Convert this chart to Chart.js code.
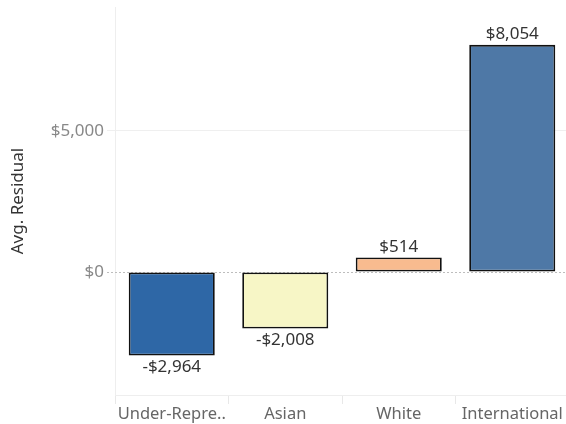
<!DOCTYPE html>
<html>
<head>
<meta charset="utf-8">
<script src="https://cdn.jsdelivr.net/npm/chart.js@4"></script>
<style>
html,body{margin:0;padding:0;background:#fff;overflow:hidden;}
#wrap{width:566px;height:424px;overflow:hidden;}
</style>
</head>
<body>
<div id="wrap"><canvas id="c" width="569" height="424"></canvas></div>
<script>
const categories = ["Under-Repre..", "Asian", "White", "International"];
const avgResidual = [-2964, -2008, 514, 8054];
const valueLabels = ["-$2,964", "-$2,008", "$514", "$8,054"];
const yTickValues = [0, 5000];
const yTickLabels = ["$0", "$5,000"];
const barColors = ["#2e67a6", "#f7f6c6", "#f8bb8f", "#4e78a6"];
const yMin = -4362, yMax = 9397;

const FONT = "'Noto Sans', sans-serif";

const zeroLine = {
  id: 'zeroLine',
  beforeDatasetsDraw(chart) {
    const y = chart.scales.y.getPixelForValue(0);
    const ctx = chart.ctx;
    ctx.save();
    ctx.strokeStyle = '#bdbdbd';
    ctx.lineWidth = 1;
    ctx.setLineDash([2, 2]);
    ctx.beginPath();
    ctx.moveTo(chart.scales.y.right - 8, Math.round(y) + 0.5);
    ctx.lineTo(chart.chartArea.right, Math.round(y) + 0.5);
    ctx.stroke();
    ctx.restore();
  }
};

const dataLabels = {
  id: 'dataLabels',
  afterDatasetsDraw(chart) {
    const ctx = chart.ctx;
    const meta = chart.getDatasetMeta(0);
    ctx.save();
    ctx.font = "17px " + FONT;
    ctx.fillStyle = '#333';
    ctx.textAlign = 'center';
    meta.data.forEach((bar, i) => {
      const v = avgResidual[i];
      if (v >= 0) {
        ctx.textBaseline = 'bottom';
        ctx.fillText(valueLabels[i], bar.x, bar.y - 2);
      } else {
        ctx.textBaseline = 'top';
        ctx.fillText(valueLabels[i], bar.x, bar.y + 3);
      }
    });
    ctx.restore();
  }
};

new Chart(document.getElementById('c'), {
  type: 'bar',
  data: {
    labels: categories,
    datasets: [{
      data: avgResidual,
      backgroundColor: barColors,
      borderColor: '#111111',
      borderWidth: 1.8,
      borderSkipped: false,
      barPercentage: 0.758,
      categoryPercentage: 1.0
    }]
  },
  options: {
    responsive: false,
    animation: false,
    devicePixelRatio: 1,
    layout: { padding: { top: 7, right: 0, left: 0, bottom: 0 } },
    plugins: { legend: { display: false }, tooltip: { enabled: false } },
    scales: {
      x: {
        offset: true,
        grid: {
          offset: true,
          drawOnChartArea: false,
          drawTicks: true,
          tickLength: 9,
          color: '#e8e8e8'
        },
        border: { display: true, color: '#eeeeee' },
        ticks: { color: '#666', font: { family: FONT, size: 16.5 }, padding: 0, maxRotation: 0, autoSkip: false },
        afterFit(scale) { scale.height = 29; scale.paddingLeft = 0; scale.paddingRight = 0; }
      },
      y: {
        min: yMin,
        max: yMax,
        afterBuildTicks(scale) { scale.ticks = yTickValues.map(v => ({ value: v })); },
        ticks: {
          color: '#888',
          font: { family: FONT, size: 17 },
          padding: 3,
          callback(v) { const i = yTickValues.indexOf(v); return i >= 0 ? yTickLabels[i] : ''; }
        },
        grid: {
          tickLength: 8,
          color: (c) => (c.tick && c.tick.value === 0) ? 'rgba(0,0,0,0)' : '#efefef'
        },
        border: { display: true, color: '#eeeeee' },
        title: {
          display: true,
          text: 'Avg. Residual',
          color: '#333',
          font: { family: FONT, size: 17 },
          padding: { top: 8, bottom: 0 }
        },
        afterFit(scale) { scale.width = 115; scale.paddingTop = 0; scale.paddingBottom = 0; }
      }
    }
  },
  plugins: [zeroLine, dataLabels]
});
</script>
</body>
</html>
